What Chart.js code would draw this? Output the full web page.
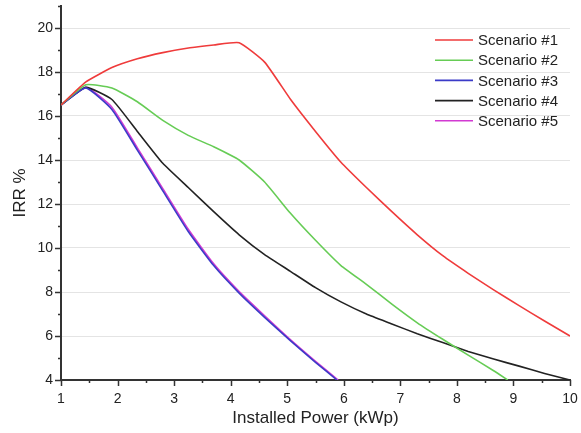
<!DOCTYPE html>
<html lang="en">
<head>
    <meta charset="UTF-8">
    <title>IRR vs Installed Power</title>
    <style>
        html, body {
            margin: 0;
            padding: 0;
            background-color: #fff;
        }
        #wrap {
            width: 581px;
            height: 433px;
        }
    </style>
</head>
<body>

<div id="wrap">
    <canvas id="irrChart" width="581" height="433"></canvas>
</div>

<script src="https://cdn.jsdelivr.net/npm/chart.js"></script>

<script>
    // series names and colours (legend order)
    const scenarioNames = ['Scenario #1', 'Scenario #2', 'Scenario #3', 'Scenario #4', 'Scenario #5'];
    const scenarioColors = ['#ef3b3b', '#66cc55', '#3b3bc8', '#222222', '#d23ad2'];

    // values: installed power (kWp) -> IRR %
    const s1Power = [1, 1.44, 1.9, 2.35, 2.8, 3.28, 3.7, 4.15, 4.6, 5.06, 5.5, 5.95, 6.4, 6.85, 7.3, 7.75, 8.2, 8.65, 9.1, 9.55, 10];
    const s1Irr   = [16.5, 17.55, 18.2, 18.6, 18.88, 19.1, 19.23, 19.33, 18.45, 16.75, 15.3, 13.9, 12.75, 11.65, 10.6, 9.65, 8.85, 8.1, 7.38, 6.68, 6.0];

    const s2Power = [1, 1.44, 1.9, 2.35, 2.8, 3.25, 3.7, 4.15, 4.6, 5.05, 5.5, 5.95, 6.4, 6.85, 7.3, 7.75, 8.2, 8.65, 8.9];
    const s2Irr   = [16.5, 17.42, 17.27, 16.65, 15.8, 15.12, 14.6, 14.0, 13.0, 11.6, 10.35, 9.2, 8.35, 7.45, 6.6, 5.85, 5.13, 4.42, 4.0];

    const s3Power = [1, 1.44, 1.9, 2.35, 2.8, 3.25, 3.7, 4.15, 4.6, 5.05, 5.5, 5.88];
    const s3Irr   = [16.5, 17.28, 16.3, 14.45, 12.6, 10.75, 9.2, 7.95, 6.85, 5.8, 4.8, 4.0];

    const s4Power = [1, 1.44, 1.9, 2.35, 2.8, 3.25, 3.7, 4.15, 4.6, 5.05, 5.5, 5.95, 6.4, 6.85, 7.3, 7.75, 8.2, 8.65, 9.1, 9.55, 10];
    const s4Irr   = [16.5, 17.3, 16.75, 15.3, 13.85, 12.75, 11.65, 10.6, 9.7, 8.95, 8.2, 7.55, 7.0, 6.55, 6.1, 5.7, 5.3, 4.95, 4.63, 4.3, 4.0];

    const s5Power = [1, 1.44, 1.9, 2.35, 2.8, 3.25, 3.7, 4.15, 4.6, 5.05, 5.5, 5.9];
    const s5Irr   = [16.5, 17.3, 16.4, 14.55, 12.7, 10.85, 9.28, 8.02, 6.92, 5.85, 4.85, 4.0];

    const xTicks = [1, 2, 3, 4, 5, 6, 7, 8, 9, 10];
    const yTicks = [4, 6, 8, 10, 12, 14, 16, 18, 20];

    const powerSets = [s1Power, s2Power, s3Power, s4Power, s5Power];
    const irrSets = [s1Irr, s2Irr, s3Irr, s4Irr, s5Irr];

    function toPoints(xs, ys) {
        return xs.map((x, i) => ({ x: x, y: ys[i] }));
    }

    Chart.defaults.font.family = "'Liberation Sans', Arial, sans-serif";
    Chart.defaults.color = '#222';

    // outward tick marks: long at labelled values, short in between
    const axisTicks = {
        id: 'axisTicks',
        afterDraw(chart) {
            const ctx = chart.ctx;
            const xs = chart.scales.x;
            const ys = chart.scales.y;
            ctx.save();
            ctx.strokeStyle = '#333';
            ctx.lineWidth = 1.5;
            ctx.beginPath();
            for (let v = 1; v <= 10.001; v += 0.5) {
                const px = Math.round(xs.getPixelForValue(v)) + 0.5;
                const len = xTicks.includes(v) ? 6 : 3;
                ctx.moveTo(px, ys.bottom);
                ctx.lineTo(px, ys.bottom + len);
            }
            for (let v = 4; v <= 21; v++) {
                const py = Math.round(ys.getPixelForValue(v)) + 0.5;
                const len = yTicks.includes(v) ? 6 : 3;
                ctx.moveTo(xs.left, py);
                ctx.lineTo(xs.left - len, py);
            }
            ctx.stroke();
            ctx.restore();
        }
    };

    // legend in the upper right of the plot
    const cornerLegend = {
        id: 'cornerLegend',
        afterDraw(chart) {
            const ctx = chart.ctx;
            ctx.save();
            ctx.font = "15px 'Liberation Sans', Arial, sans-serif";
            ctx.textBaseline = 'middle';
            ctx.textAlign = 'left';
            chart.data.datasets.forEach((ds, i) => {
                const y = 40 + i * 20.2;
                ctx.strokeStyle = ds.borderColor;
                ctx.lineWidth = 1.6;
                ctx.beginPath();
                ctx.moveTo(435, y);
                ctx.lineTo(473, y);
                ctx.stroke();
                ctx.fillStyle = '#222';
                ctx.fillText(ds.label, 478, y + 1);
            });
            ctx.restore();
        }
    };

    const ctx = document.getElementById('irrChart').getContext('2d');
    const irrChart = new Chart(ctx, {
        type: 'line',
        data: {
            datasets: scenarioNames.map((name, i) => ({
                label: name,
                data: toPoints(powerSets[i], irrSets[i]),
                borderColor: scenarioColors[i],
                backgroundColor: scenarioColors[i],
                borderWidth: 1.6,
                pointRadius: 0,
                fill: false,
                tension: 0.15
            }))
        },
        options: {
            responsive: false,
            animation: false,
            layout: {
                padding: { top: 6, right: 11, left: 0, bottom: 0 }
            },
            plugins: {
                legend: { display: false },
                tooltip: { enabled: false }
            },
            scales: {
                x: {
                    type: 'linear',
                    min: 1,
                    max: 10,
                    ticks: {
                        stepSize: 1,
                        autoSkip: false,
                        maxRotation: 0,
                        padding: 11,
                        font: { size: 14 },
                        color: '#222',
                        callback: v => (xTicks.includes(v) ? v : '')
                    },
                    grid: { display: false, drawTicks: false },
                    border: { display: true, color: '#333', width: 2 },
                    title: {
                        display: true,
                        text: 'Installed Power (kWp)',
                        font: { size: 17 },
                        color: '#222',
                        padding: { top: 0, bottom: 4 }
                    },
                    afterFit(scale) {
                        scale.height = 53;
                        scale.paddingLeft = 0;
                        scale.paddingRight = 0;
                    }
                },
                y: {
                    type: 'linear',
                    min: 4,
                    max: 21,
                    ticks: {
                        stepSize: 1,
                        autoSkip: false,
                        padding: 8,
                        font: { size: 14 },
                        color: '#222',
                        callback: v => (yTicks.includes(v) ? v : '')
                    },
                    grid: {
                        drawTicks: false,
                        lineWidth: 1,
                        color: c => (c.tick && yTicks.includes(c.tick.value) && c.tick.value > 4 ? '#e4e4e4' : 'rgba(0,0,0,0)')
                    },
                    border: { display: true, color: '#333', width: 2 },
                    title: {
                        display: true,
                        text: 'IRR %',
                        font: { size: 17 },
                        color: '#222',
                        padding: { top: 10, bottom: 0 }
                    },
                    afterFit(scale) {
                        scale.width = 61;
                        scale.paddingTop = 0;
                        scale.paddingBottom = 0;
                    }
                }
            }
        },
        plugins: [axisTicks, cornerLegend]
    });
</script>

</body>
</html>
